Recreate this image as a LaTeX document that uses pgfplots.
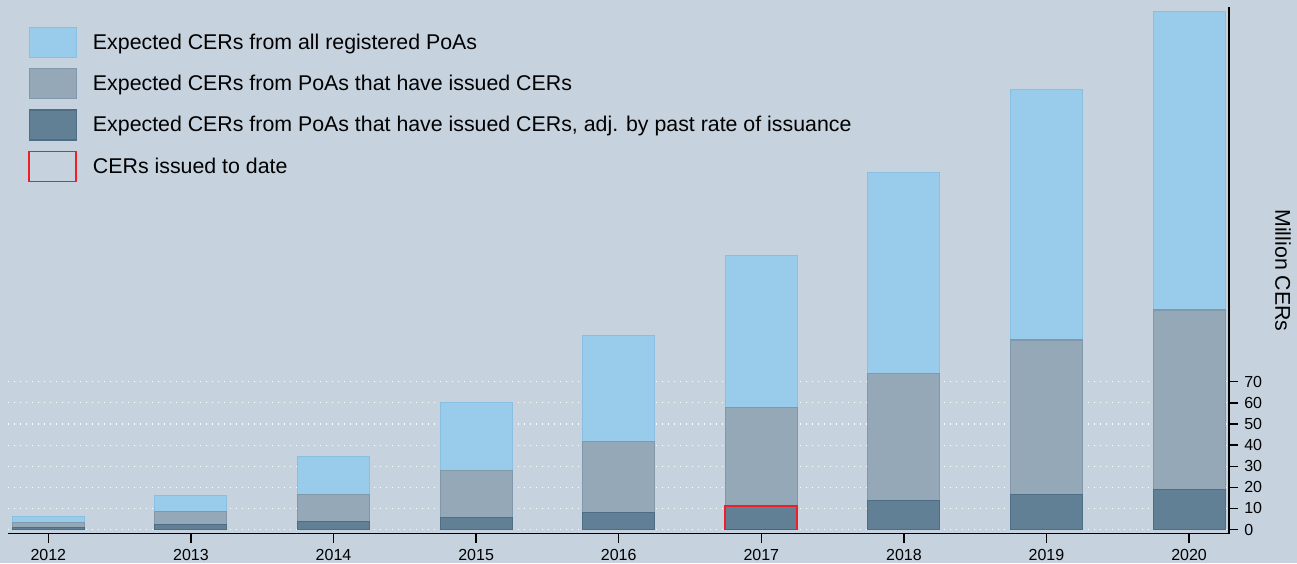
\documentclass[border=0pt]{standalone}
\usepackage{fontspec}
\setmainfont{Liberation Sans}
\usepackage{pgfplots}
\pgfplotsset{compat=1.18}
\definecolor{bg}{HTML}{C6D2DE}
\definecolor{lb}{HTML}{99CCEB}
\definecolor{lbd}{HTML}{88BFE3}
\definecolor{gr}{HTML}{95A8B8}
\definecolor{grd}{HTML}{8197AA}
\definecolor{dk}{HTML}{628095}
\definecolor{dkd}{HTML}{4E6E85}
\definecolor{rd}{HTML}{EE1F26}
\pgfplotsset{mybar/.style={ybar, bar width=0.505, bar shift=0pt,
  legend image code/.code={\draw[##1] (0pt,-11.25pt) rectangle (35.25pt,11.25pt);}}}
\begin{document}
\begin{tikzpicture}
\path[use as bounding box, fill=bg] (-6pt,-22pt) rectangle (966.75pt,400.3pt);
\begin{axis}[
  scale only axis, width=915.75pt, height=394.8pt,
  xmin=2011.717, xmax=2020.28, ymin=-2, ymax=247.4,
  axis x line*=bottom, axis y line*=right,
  axis line style={black, line width=1.1pt},
  xtick={2012,2013,2014,2015,2016,2017,2018,2019,2020},
  ytick={0,10,20,30,40,50,60,70},
  tick align=outside, major tick length=6.75pt,
  tick style={black, line width=1pt},
  /pgf/number format/assume math mode=true,
  /pgf/number format/set thousands separator={},
  ticklabel style={font=\fontsize{12}{14}\selectfont},
  xticklabel shift=1.2pt, yticklabel shift=1.2pt,
  ymajorgrids,
  major grid style={white, line width=0.8pt, dash pattern=on 0.7pt off 3.8pt},
  ylabel={Million CERs},
  ylabel style={at={(axis description cs:1.0442,0.5)}, anchor=center, rotate=180, font=\fontsize{16}{19}\selectfont},
  legend cell align=left,
  legend style={at={(0,1)}, anchor=north west, xshift=15pt, yshift=-14.8pt,
    draw=none, fill=none, inner sep=0pt, row sep=7.5pt, column sep=12pt,
    font=\fontsize{16}{19}\selectfont, nodes={inner sep=0pt}},
]
\addplot[mybar, fill=lb, draw=lbd, line width=0.8pt] coordinates {
 (2012,6.0) (2013,16.3) (2014,34.4) (2015,60.1) (2016,91.7)
 (2017,129.6) (2018,169.1) (2019,208.5) (2020,245.5)};
\addlegendentry{Expected CERs from all registered PoAs}
\addplot[mybar, fill=gr, draw=grd, line width=0.8pt] coordinates {
 (2012,3.2) (2013,8.4) (2014,16.6) (2015,28.1) (2016,41.6)
 (2017,57.7) (2018,74.0) (2019,89.8) (2020,104.0)};
\addlegendentry{Expected CERs from PoAs that have issued CERs}
\addplot[mybar, fill=dk, draw=dkd, line width=0.8pt] coordinates {
 (2012,1.1) (2013,2.2) (2014,3.8) (2015,5.9) (2016,8.2)
 (2017,11.0) (2018,13.8) (2019,16.7) (2020,18.9)};
\addlegendentry{Expected CERs from PoAs that have issued CERs, adj. by past rate of issuance}
\addplot[mybar, fill=none, draw=rd, line width=1.3pt] coordinates {
 (2017,11.0)};
\addlegendentry{CERs issued to date}
\end{axis}
\end{tikzpicture}
\end{document}
